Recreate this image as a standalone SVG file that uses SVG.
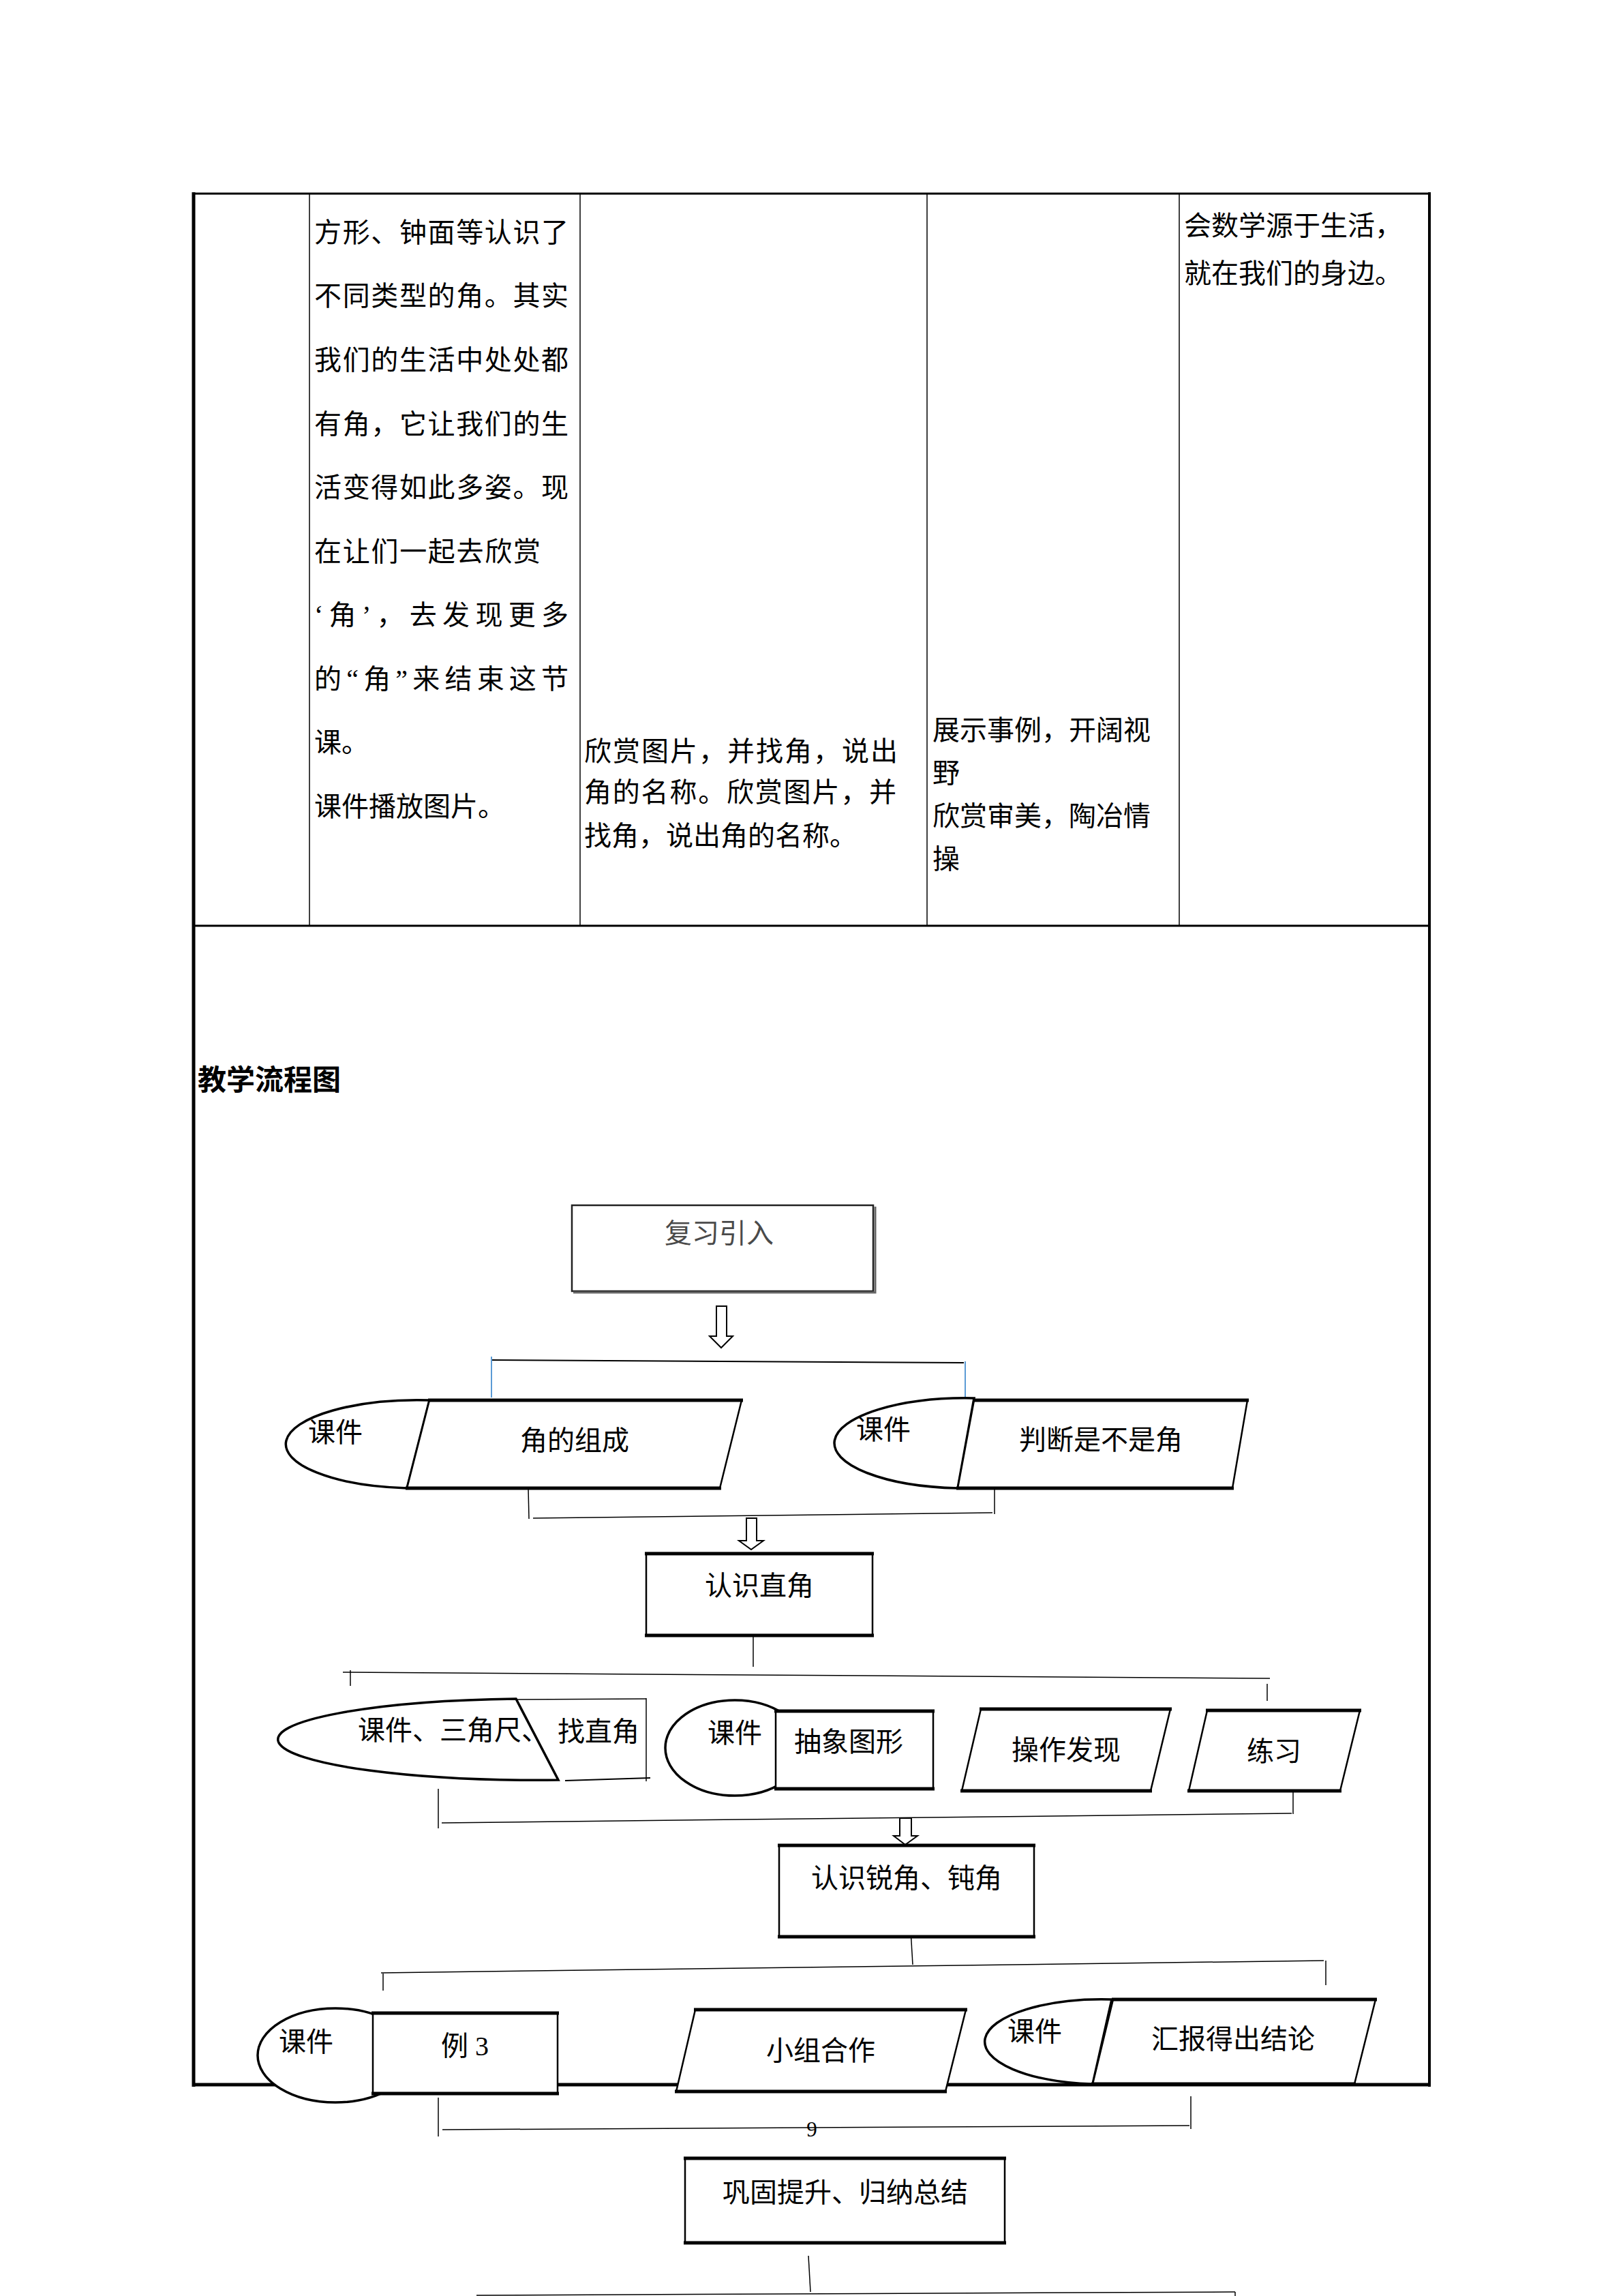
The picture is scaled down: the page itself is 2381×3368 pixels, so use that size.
<svg xmlns="http://www.w3.org/2000/svg" width="2381" height="3368" viewBox="0 0 2381 3368">
<style>
.t{font-family:"Liberation Serif","Noto Sans CJK SC",serif;font-size:40px;fill:#000}
.c{text-anchor:middle}
.title{font-family:"Noto Sans CJK SC","Liberation Sans",sans-serif;font-size:42px;font-weight:bold;fill:#000}
.grid{stroke:#000;stroke-width:1.5;fill:none}
.border{stroke:#000;stroke-width:5;fill:none}
.shape{fill:#fff;stroke:#000;stroke-width:2.5}
.edge{stroke:#000;stroke-width:5;fill:none}
.arc{fill:#fff;stroke:#000;stroke-width:3.5}
.ln{stroke:#000;stroke-width:1.5;fill:none}
.blue{stroke:#5b9bd5;stroke-width:2;fill:none}
.arrow{fill:#fff;stroke:#000;stroke-width:2}
</style>
<rect width="2381" height="3368" fill="#fff"/>

<g id="table">
  <line class="grid" x1="454" y1="284" x2="454" y2="1357"/>
  <line class="grid" x1="851" y1="284" x2="851" y2="1357"/>
  <line class="grid" x1="1360" y1="284" x2="1360" y2="1357"/>
  <line class="grid" x1="1730" y1="284" x2="1730" y2="1357"/>
  <line x1="284" y1="284" x2="2097" y2="284" stroke="#000" stroke-width="3"/>
  <line x1="284" y1="1358" x2="2097" y2="1358" stroke="#000" stroke-width="3"/>
  <line class="border" x1="284" y1="282" x2="284" y2="3061"/>
  <line x1="2097" y1="282" x2="2097" y2="3061" stroke="#000" stroke-width="4"/>
  <line class="border" x1="282" y1="3058" x2="2099" y2="3058"/>
</g>

<g id="cell-text">
  <text class="t" x="461" y="355" textLength="373" lengthAdjust="spacing">方形、钟面等认识了</text>
  <text class="t" x="461" y="448" textLength="373" lengthAdjust="spacing">不同类型的角。其实</text>
  <text class="t" x="461" y="542" textLength="373" lengthAdjust="spacing">我们的生活中处处都</text>
  <text class="t" x="461" y="636" textLength="373" lengthAdjust="spacing">有角，它让我们的生</text>
  <text class="t" x="461" y="729" textLength="373" lengthAdjust="spacing">活变得如此多姿。现</text>
  <text class="t" x="461" y="823" textLength="332" lengthAdjust="spacing">在让们一起去欣赏</text>
  <text class="t" x="461" y="916" textLength="373" lengthAdjust="spacing">‘角’，去发现更多</text>
  <text class="t" x="461" y="1010" textLength="373" lengthAdjust="spacing">的“角”来结束这节</text>
  <text class="t" x="461" y="1103">课。</text>
  <text class="t" x="461" y="1197">课件播放图片。</text>

  <text class="t" x="857" y="1116" textLength="460" lengthAdjust="spacing">欣赏图片，并找角，说出</text>
  <text class="t" x="857" y="1176" textLength="458" lengthAdjust="spacing">角的名称。欣赏图片，并</text>
  <text class="t" x="857" y="1240">找角，说出角的名称。</text>

  <text class="t" x="1368" y="1085">展示事例，开阔视</text>
  <text class="t" x="1368" y="1148">野</text>
  <text class="t" x="1368" y="1211">欣赏审美，陶冶情</text>
  <text class="t" x="1368" y="1274">操</text>

  <text class="t" x="1737" y="345">会数学源于生活，</text>
  <text class="t" x="1737" y="415">就在我们的身边。</text>

  <text class="title" x="290" y="1599">教学流程图</text>
</g>

<g id="connectors">
  <polygon class="arrow" points="1051,1916 1066,1916 1066,1960 1075,1960 1058,1977 1041,1960 1051,1960"/>
  <line x1="721" y1="1995" x2="1414" y2="1999" stroke="#000" stroke-width="2"/>
  <line class="blue" x1="721" y1="1990" x2="721" y2="2050"/>
  <line class="blue" x1="1416" y1="1997" x2="1416" y2="2049"/>

  <line class="ln" x1="775" y1="2183" x2="776" y2="2228"/>
  <line class="ln" x1="782" y1="2227" x2="1456" y2="2219"/>
  <line class="ln" x1="1459" y1="2184" x2="1459" y2="2221"/>
  <polygon class="arrow" points="1095,2227 1110,2227 1110,2260 1120,2260 1102,2273 1084,2260 1095,2260"/>

  <line class="ln" x1="1105" y1="2399" x2="1105" y2="2445"/>
  <line class="ln" x1="503" y1="2453" x2="1863" y2="2462"/>
  <line class="ln" x1="514" y1="2450" x2="514" y2="2473"/>
  <line class="ln" x1="1859" y1="2470" x2="1859" y2="2495"/>

  <line class="ln" x1="643" y1="2624" x2="643" y2="2682"/>
  <line class="ln" x1="648" y1="2674" x2="1895" y2="2660"/>
  <line class="ln" x1="1897" y1="2610" x2="1897" y2="2661"/>
  <polygon class="arrow" points="1320,2667 1337,2667 1337,2693 1346,2693 1328,2706 1311,2693 1320,2693"/>

  <line class="ln" x1="1336" y1="2831" x2="1339" y2="2882"/>
  <line class="ln" x1="559" y1="2894" x2="1942" y2="2876"/>
  <line class="ln" x1="562" y1="2895" x2="562" y2="2920"/>
  <line class="ln" x1="1945" y1="2876" x2="1945" y2="2912"/>

  <line class="ln" x1="643" y1="3077" x2="643" y2="3134"/>
  <line class="ln" x1="649" y1="3124" x2="1745" y2="3118"/>
  <line class="ln" x1="1747" y1="3075" x2="1747" y2="3123"/>

  <line class="ln" x1="1186" y1="3309" x2="1189" y2="3362"/>
  <line class="ln" x1="699" y1="3367" x2="1812" y2="3362"/>
  <line class="ln" x1="1812" y1="3362" x2="1812" y2="3368"/>
</g>

<g id="node-review">
  <rect x="839" y="1768" width="442" height="126" fill="#fff" stroke="#222" stroke-width="2.5"/>
  <path d="M841,1896 L1284,1896 L1284,1770" fill="none" stroke="#666" stroke-width="3"/>
  <text class="t c" x="1055" y="1823" style="fill:#4a4a4a;font-family:'Noto Sans CJK SC',sans-serif">复习引入</text>
</g>

<g id="node-angle-parts">
  <path class="arc" d="M630,2054 A3,1 0 0 0 597,2183 Z"/>
  <path class="shape" d="M630,2054 L1088,2054 L1056,2183 L597,2183 Z"/>
  <line class="edge" x1="628" y1="2054" x2="1090" y2="2054"/>
  <line class="edge" x1="595" y1="2183" x2="1058" y2="2183"/>
  <text class="t c" x="492" y="2115">课件</text>
  <text class="t c" x="843" y="2127">角的组成</text>
</g>

<g id="node-judge">
  <path class="arc" d="M1429,2051 A2.92,1 0 0 0 1405,2183 Z"/>
  <path class="shape" d="M1429,2054 L1830,2054 L1808,2183 L1405,2183 Z"/>
  <line class="edge" x1="1427" y1="2054" x2="1832" y2="2054"/>
  <line class="edge" x1="1403" y1="2183" x2="1810" y2="2183"/>
  <text class="t c" x="1296" y="2111">课件</text>
  <text class="t c" x="1615" y="2126">判断是不是角</text>
</g>

<g id="node-right-angle">
  <rect class="shape" x="948" y="2279" width="332" height="120"/>
  <line class="edge" x1="946" y1="2279" x2="1282" y2="2279"/>
  <line class="edge" x1="946" y1="2399" x2="1282" y2="2399"/>
  <text class="t c" x="1114" y="2340">认识直角</text>
</g>

<g id="node-find-right-angle">
  <path class="arc" d="M757,2492 A6.37,1 0 0 0 819,2611 Z"/>
  <line x1="757" y1="2492" x2="819" y2="2611" stroke="#000" stroke-width="2.5"/>
  <line class="ln" x1="757" y1="2493" x2="948" y2="2492"/>
  <line class="ln" x1="948" y1="2491" x2="948" y2="2613"/>
  <line x1="829" y1="2612" x2="954" y2="2608" stroke="#000" stroke-width="2"/>
  <text class="t" x="525" y="2552">课件、三角尺、</text>
  <text class="t c" x="878" y="2554">找直角</text>
</g>

<g id="node-abstract">
  <ellipse class="shape" cx="1078" cy="2564" rx="102" ry="70" style="stroke-width:3.5"/>
  <rect class="shape" x="1138" y="2510" width="231" height="114"/>
  <line class="edge" x1="1136" y1="2510" x2="1371" y2="2510"/>
  <line class="edge" x1="1136" y1="2624" x2="1371" y2="2624"/>
  <text class="t c" x="1078" y="2556">课件</text>
  <text class="t c" x="1245" y="2569">抽象图形</text>
</g>

<g id="node-operate">
  <path class="shape" d="M1439,2507 L1717,2507 L1688,2627 L1411,2627 Z"/>
  <line class="edge" x1="1437" y1="2507" x2="1719" y2="2507"/>
  <line class="edge" x1="1409" y1="2627" x2="1690" y2="2627"/>
  <text class="t c" x="1564" y="2581">操作发现</text>
</g>

<g id="node-practice">
  <path class="shape" d="M1771,2509 L1995,2509 L1966,2627 L1744,2627 Z"/>
  <line class="edge" x1="1769" y1="2509" x2="1997" y2="2509"/>
  <line class="edge" x1="1742" y1="2627" x2="1968" y2="2627"/>
  <text class="t c" x="1869" y="2583">练习</text>
</g>

<g id="node-acute-obtuse">
  <rect class="shape" x="1143" y="2707" width="374" height="134"/>
  <line class="edge" x1="1141" y1="2707" x2="1519" y2="2707"/>
  <line class="edge" x1="1141" y1="2841" x2="1519" y2="2841"/>
  <text class="t c" x="1330" y="2769">认识锐角、钝角</text>
</g>

<g id="node-example3">
  <ellipse class="shape" cx="492" cy="3015" rx="114" ry="69" style="stroke-width:3.5"/>
  <rect class="shape" x="547" y="2953" width="271" height="118"/>
  <line class="edge" x1="545" y1="2953" x2="820" y2="2953"/>
  <line class="edge" x1="545" y1="3071" x2="820" y2="3071"/>
  <text class="t c" x="449" y="3009">课件</text>
  <text class="t c" x="682" y="3015">例 3</text>
</g>

<g id="node-group-work">
  <path class="shape" d="M1020,2948 L1417,2948 L1387,3068 L992,3068 Z"/>
  <line class="edge" x1="1018" y1="2948" x2="1419" y2="2948"/>
  <line class="edge" x1="990" y1="3068" x2="1389" y2="3068"/>
  <text class="t c" x="1204" y="3022">小组合作</text>
</g>

<g id="node-report">
  <path class="arc" d="M1631,2933 A2.77,1 0 0 0 1603,3057 Z"/>
  <path class="shape" d="M1633,2933 L2018,2933 L1987,3057 L1603,3057 Z"/>
  <line class="edge" x1="1631" y1="2933" x2="2020" y2="2933"/>
  <line class="edge" x1="1601" y1="3057" x2="1989" y2="3057"/>
  <text class="t c" x="1518" y="2994">课件</text>
  <text class="t c" x="1809" y="3005">汇报得出结论</text>
</g>

<g id="node-summary">
  <rect class="shape" x="1005" y="3166" width="469" height="124"/>
  <line class="edge" x1="1003" y1="3166" x2="1476" y2="3166"/>
  <line class="edge" x1="1003" y1="3290" x2="1476" y2="3290"/>
  <text class="t c" x="1240" y="3230">巩固提升、归纳总结</text>
</g>

<text x="1191" y="3134" style="font-family:'Liberation Serif',serif;font-size:31px;text-anchor:middle;fill:#000">9</text>
</svg>
